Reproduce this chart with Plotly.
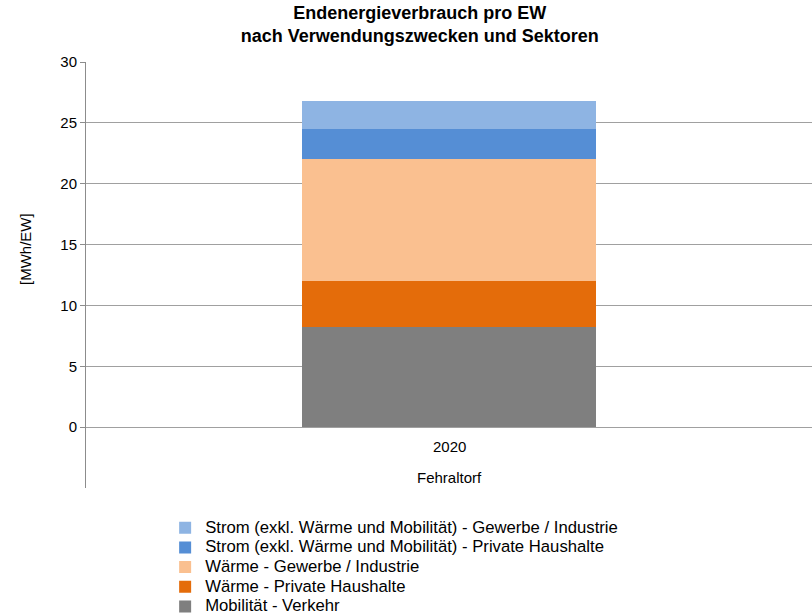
import plotly.graph_objects as go

categories = ["2020"]
group_label = "Fehraltorf"
series_names = [
    "Mobilität - Verkehr",
    "Wärme - Private Haushalte",
    "Wärme - Gewerbe / Industrie",
    "Strom (exkl. Wärme und Mobilität) - Private Haushalte",
    "Strom (exkl. Wärme und Mobilität) - Gewerbe / Industrie",
]
series_values = [
    [8.2],
    [3.8],
    [10.0],
    [2.5],
    [2.3],
]
series_colors = ["#7F7F7F", "#E46C0A", "#FAC090", "#558ED5", "#8EB4E3"]
y_ticks = [0, 5, 10, 15, 20, 25, 30]

FONT = "Liberation Sans, Arial, sans-serif"
LEGEND_TEXT_SIZE = 16.7

fig = go.Figure()
for name, vals, col in zip(series_names, series_values, series_colors):
    fig.add_trace(go.Bar(
        x=categories, y=vals,
        name=f'<span style="font-size:{LEGEND_TEXT_SIZE}px">{name}</span>',
        marker=dict(color=col, line=dict(width=0)),
        width=0.405,
    ))

fig.update_layout(
    width=812, height=614,
    barmode="stack",
    plot_bgcolor="white", paper_bgcolor="white",
    font=dict(family=FONT, size=15, color="#000000"),
    margin=dict(l=86, r=0, t=62, b=126, autoexpand=False),
    title=dict(
        text="<b>Endenergieverbrauch pro EW<br>nach Verwendungszwecken und Sektoren</b>",
        x=0.517, xanchor="center", xref="container",
        y=0.969, yanchor="middle", yref="container",
        font=dict(family=FONT, size=18, color="#000000"),
    ),
    xaxis=dict(
        range=[-0.5, 0.5], showticklabels=False, showgrid=False,
        showline=False, zeroline=False, ticks="",
    ),
    yaxis=dict(
        range=[-5, 30], tickvals=y_ticks, ticktext=[str(v) for v in y_ticks],
        showgrid=True, gridcolor="#A0A0A0", gridwidth=1,
        zeroline=False, showline=True, linecolor="#8C8C8C", linewidth=1,
        ticks="outside", ticklen=5, tickcolor="#8C8C8C",
        tickfont=dict(family=FONT, size=15, color="#000000"),
        automargin=False,
    ),
    showlegend=True,
    legend=dict(
        traceorder="reversed",
        orientation="v",
        x=0.109, xanchor="left", y=-0.0587, yanchor="top",
        font=dict(family=FONT, size=12.8, color="#000000"),
        bgcolor="rgba(0,0,0,0)",
    ),
    annotations=[
        dict(text=categories[0], x=0, y=-1.6, xref="x", yref="y",
             showarrow=False, font=dict(family=FONT, size=15, color="#000000")),
        dict(text=group_label, x=0, y=-4.1, xref="x", yref="y",
             showarrow=False, font=dict(family=FONT, size=15, color="#000000")),
        dict(text="[MWh/EW]", x=-0.084, y=0.561, xref="paper", yref="paper",
             xanchor="center", yanchor="middle",
             textangle=-90, showarrow=False,
             font=dict(family=FONT, size=15, color="#000000")),
    ],
)

fig.write_html(
    "out.html",
    config={"displayModeBar": False},
    post_script="document.body.style.margin='0';document.body.style.overflow='hidden';",
)
